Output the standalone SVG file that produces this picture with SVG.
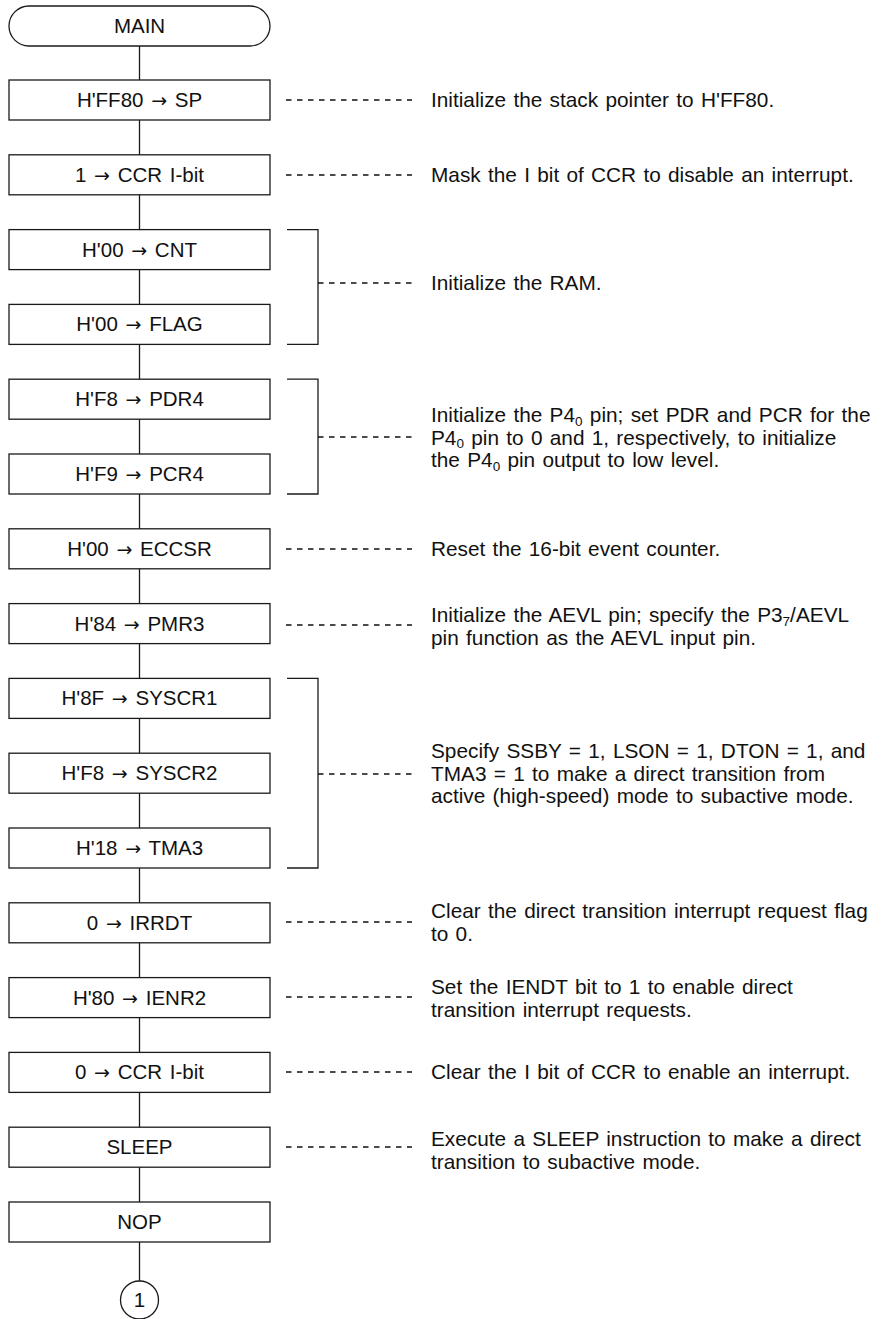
<svg xmlns="http://www.w3.org/2000/svg" width="890" height="1319" viewBox="0 0 890 1319">
  <defs>
    <style>
      .box { fill: #fff; stroke: #1a1a1a; stroke-width: 1.3; }
      .line { fill: none; stroke: #1a1a1a; stroke-width: 1.3; }
      .dash { fill: none; stroke: #111; stroke-width: 1.3; stroke-dasharray: 5.5 5.5; }
      .lbl { font-family: "Liberation Sans", Arial, sans-serif; font-size: 20.5px; word-spacing: 2px; fill: #111; text-anchor: middle; }
      .arr { font-family: "DejaVu Sans", sans-serif; font-size: 19px; }
      .note { font-family: "Liberation Sans", Arial, sans-serif; font-size: 20.8px; word-spacing: 1.5px; fill: #111; }
      .sub { font-size: 13.5px; }
    </style>
  </defs>
  <rect width="890" height="1319" fill="#fff"/>

  <!-- vertical flow connectors and annotation leaders -->
  <g id="connectors">
    <line class="line" x1="139.5" y1="46" x2="139.5" y2="1281"/>
    <line class="dash" x1="286" y1="100" x2="412" y2="100"/>
    <line class="dash" x1="286" y1="175" x2="412" y2="175"/>
    <polyline class="line" points="287,229.6 318,229.6 318,344.4 287,344.4"/>
    <line class="dash" x1="318" y1="283" x2="412" y2="283"/>
    <polyline class="line" points="287,379.2 318,379.2 318,494 287,494"/>
    <line class="dash" x1="318" y1="437" x2="412" y2="437"/>
    <line class="dash" x1="286" y1="549" x2="412" y2="549"/>
    <line class="dash" x1="286" y1="625" x2="412" y2="625"/>
    <polyline class="line" points="287,678.4 318,678.4 318,868 287,868"/>
    <line class="dash" x1="318" y1="774" x2="412" y2="774"/>
    <line class="dash" x1="286" y1="922" x2="412" y2="922"/>
    <line class="dash" x1="286" y1="997" x2="412" y2="997"/>
    <line class="dash" x1="286" y1="1072" x2="412" y2="1072"/>
    <line class="dash" x1="286" y1="1147" x2="412" y2="1147"/>
  </g>

  <g id="main">
    <rect class="box" x="9" y="6" width="261" height="40" rx="20" ry="20"/>
    <text class="lbl" x="139.5" y="33">MAIN</text>
  </g>
  <g id="sp">
    <rect class="box" x="9" y="80" width="261" height="40"/>
    <text class="lbl" x="139.5" y="107">H'FF80 <tspan class="arr">→</tspan> SP</text>
  </g>
  <g id="ccr-set">
    <rect class="box" x="9" y="154.8" width="261" height="40"/>
    <text class="lbl" x="139.5" y="181.8">1 <tspan class="arr">→</tspan> CCR I-bit</text>
  </g>
  <g id="cnt">
    <rect class="box" x="9" y="229.6" width="261" height="40"/>
    <text class="lbl" x="139.5" y="256.6">H'00 <tspan class="arr">→</tspan> CNT</text>
  </g>
  <g id="flag">
    <rect class="box" x="9" y="304.4" width="261" height="40"/>
    <text class="lbl" x="139.5" y="331.4">H'00 <tspan class="arr">→</tspan> FLAG</text>
  </g>
  <g id="pdr4">
    <rect class="box" x="9" y="379.2" width="261" height="40"/>
    <text class="lbl" x="139.5" y="406.2">H'F8 <tspan class="arr">→</tspan> PDR4</text>
  </g>
  <g id="pcr4">
    <rect class="box" x="9" y="454" width="261" height="40"/>
    <text class="lbl" x="139.5" y="481">H'F9 <tspan class="arr">→</tspan> PCR4</text>
  </g>
  <g id="eccsr">
    <rect class="box" x="9" y="528.8" width="261" height="40"/>
    <text class="lbl" x="139.5" y="555.8">H'00 <tspan class="arr">→</tspan> ECCSR</text>
  </g>
  <g id="pmr3">
    <rect class="box" x="9" y="603.6" width="261" height="40"/>
    <text class="lbl" x="139.5" y="630.6">H'84 <tspan class="arr">→</tspan> PMR3</text>
  </g>
  <g id="syscr1">
    <rect class="box" x="9" y="678.4" width="261" height="40"/>
    <text class="lbl" x="139.5" y="705.4">H'8F <tspan class="arr">→</tspan> SYSCR1</text>
  </g>
  <g id="syscr2">
    <rect class="box" x="9" y="753.2" width="261" height="40"/>
    <text class="lbl" x="139.5" y="780.2">H'F8 <tspan class="arr">→</tspan> SYSCR2</text>
  </g>
  <g id="tma3">
    <rect class="box" x="9" y="828" width="261" height="40"/>
    <text class="lbl" x="139.5" y="855">H'18 <tspan class="arr">→</tspan> TMA3</text>
  </g>
  <g id="irrdt">
    <rect class="box" x="9" y="902.8" width="261" height="40"/>
    <text class="lbl" x="139.5" y="929.8">0 <tspan class="arr">→</tspan> IRRDT</text>
  </g>
  <g id="ienr2">
    <rect class="box" x="9" y="977.6" width="261" height="40"/>
    <text class="lbl" x="139.5" y="1004.6">H'80 <tspan class="arr">→</tspan> IENR2</text>
  </g>
  <g id="ccr-clear">
    <rect class="box" x="9" y="1052.4" width="261" height="40"/>
    <text class="lbl" x="139.5" y="1079.4">0 <tspan class="arr">→</tspan> CCR I-bit</text>
  </g>
  <g id="sleep">
    <rect class="box" x="9" y="1127.2" width="261" height="40"/>
    <text class="lbl" x="139.5" y="1154.2">SLEEP</text>
  </g>
  <g id="nop">
    <rect class="box" x="9" y="1202" width="261" height="40"/>
    <text class="lbl" x="139.5" y="1229">NOP</text>
  </g>
  <g id="connector-1">
    <circle class="box" cx="139.5" cy="1300" r="19"/>
    <text class="lbl" x="139.5" y="1307">1</text>
  </g>

  <!-- annotations -->
  <g id="notes">
    <text class="note" x="431" y="107">Initialize the stack pointer to H'FF80.</text>
    <text class="note" x="431" y="182">Mask the I bit of CCR to disable an interrupt.</text>
    <text class="note" x="431" y="290">Initialize the RAM.</text>
    <text class="note" x="431" y="422">Initialize the P4<tspan class="sub" dy="3.5">0</tspan><tspan dy="-3.5"> pin; set PDR and PCR for the</tspan></text>
    <text class="note" x="431" y="444.5">P4<tspan class="sub" dy="3.5">0</tspan><tspan dy="-3.5"> pin to 0 and 1, respectively, to initialize</tspan></text>
    <text class="note" x="431" y="467">the P4<tspan class="sub" dy="3.5">0</tspan><tspan dy="-3.5"> pin output to low level.</tspan></text>
    <text class="note" x="431" y="556">Reset the 16-bit event counter.</text>
    <text class="note" x="431" y="622">Initialize the AEVL pin; specify the P3<tspan class="sub" dy="3.5">7</tspan><tspan dy="-3.5">/AEVL</tspan></text>
    <text class="note" x="431" y="644.5">pin function as the AEVL input pin.</text>
    <text class="note" x="431" y="758">Specify SSBY = 1, LSON = 1, DTON = 1, and</text>
    <text class="note" x="431" y="780.5">TMA3 = 1 to make a direct transition from</text>
    <text class="note" x="431" y="803">active (high-speed) mode to subactive mode.</text>
    <text class="note" x="431" y="918">Clear the direct transition interrupt request flag</text>
    <text class="note" x="431" y="940.5">to 0.</text>
    <text class="note" x="431" y="994">Set the IENDT bit to 1 to enable direct</text>
    <text class="note" x="431" y="1016.5">transition interrupt requests.</text>
    <text class="note" x="431" y="1079">Clear the I bit of CCR to enable an interrupt.</text>
    <text class="note" x="431" y="1146">Execute a SLEEP instruction to make a direct</text>
    <text class="note" x="431" y="1168.5">transition to subactive mode.</text>
  </g>
</svg>
